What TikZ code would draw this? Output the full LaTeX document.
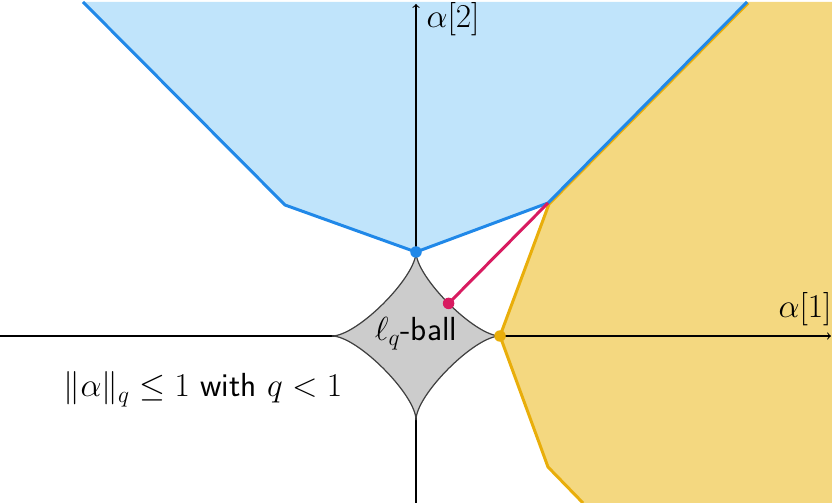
\RequirePackage{fix-cm}
\documentclass[tikz,border=0pt]{standalone}
\usepackage{amssymb}
\definecolor{bluefill}{HTML}{C0E4FB}
\definecolor{blueline}{HTML}{2088E8}
\definecolor{orangefill}{HTML}{F4D880}
\definecolor{orangeline}{HTML}{E9AE0A}
\definecolor{redline}{HTML}{D81B60}
\definecolor{ballfill}{HTML}{CCCCCC}
\begin{document}
\begin{tikzpicture}[x=0.02cm,y=-0.02cm,
  axis/.style={line width=0.6pt,->,>=to},
  region/.style={line width=1.7pt,line join=miter},
  dotmark/.style={circle,inner sep=0pt,minimum size=11.5*0.02cm},
  lbl/.style={font=\fontsize{19}{22}\selectfont\sffamily}]
\useasboundingbox (0,0) rectangle (832,503);
% points
\coordinate (O) at (416,336);
\coordinate (b1) at (83,2);
\coordinate (b2) at (285,205);
\coordinate (T) at (416,252);
\coordinate (K) at (548,203);
\coordinate (b5) at (747,2);
\coordinate (R) at (500,336);
\coordinate (o3) at (548,467);
\coordinate (o4) at (583,503);
\coordinate (B) at (416,420);
\coordinate (L) at (332,336);
% regions
\fill[bluefill] (b1) -- (b2) -- (T) -- (K) -- (b5) -- cycle;
\fill[orangefill] (b5) -- (K) -- (R) -- (o3) -- (o4) -- (832,503) -- (832,2) -- cycle;
% axes
\coordinate (xs) at (0,336); \coordinate (xe) at (831,336);
\coordinate (ys) at (416,503); \coordinate (ye) at (416,4);
\draw[axis] (xs) -- (xe);
\draw[axis] (ys) -- (ye);
% outlines
\draw[region,orangeline] ([xshift=1.2*0.02cm,yshift=-1*0.02cm]b5) -- ([xshift=1*0.02cm,yshift=-1*0.02cm]K) -- (R) -- (o3) -- (o4);
\draw[region,blueline] (b1) -- (b2) -- (T) -- (K) -- (b5);
% ball
\draw[fill=ballfill,draw=black!75,line width=0.7pt]
  (T) .. controls (416,277.2) and (474.8,336) .. (R)
      .. controls (474.8,336) and (416,394.8) .. (B)
      .. controls (416,394.8) and (357.2,336) .. (L)
      .. controls (357.2,336) and (416,277.2) .. (T) -- cycle;
% red segment
\coordinate (P) at (448.6,303.4);
\draw[redline,line width=1.7pt] (P) -- (K);
\node[dotmark,fill=redline] (pd) at (P) {};
\node[dotmark,fill=blueline] (td) at (T) {};
\node[dotmark,fill=orangeline] (rd) at (R) {};
% labels
\node[lbl,anchor=base] (ball) at (416,340) {$\ell_q$-ball};
\node[lbl,anchor=base] (cond) at (203,397) {$\|\alpha\|_q\leq 1$ with $q<1$};
\node[lbl,anchor=base] (a2) at (453,28) {$\alpha[2]$};
\node[lbl,anchor=base] (a1) at (805,317) {$\alpha[1]$};
\end{tikzpicture}
\end{document}
